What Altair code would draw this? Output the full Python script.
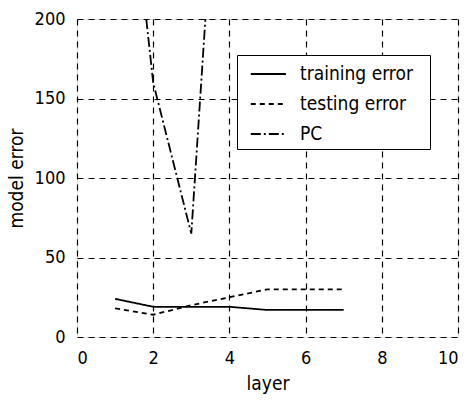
import altair as alt
import pandas as pd

# Model error against number of layers
layers = [1, 2, 3, 4, 5, 6, 7]
training_error = [24, 19, 19, 19, 17, 17, 17]
testing_error = [18, 14, 20, 25, 30, 30, 30]
pc_layers = [1, 2, 3, 4]
pc_values = [380, 160, 65, 430]

series_names = ["training error", "testing error", "PC"]

rows = []
for x, v in zip(layers, training_error):
    rows.append({"layer": x, "value": v, "series": series_names[0]})
for x, v in zip(layers, testing_error):
    rows.append({"layer": x, "value": v, "series": series_names[1]})
for x, v in zip(pc_layers, pc_values):
    rows.append({"layer": x, "value": v, "series": series_names[2]})
df = pd.DataFrame(rows)

FONT = "DejaVu Sans Condensed, Liberation Sans Narrow, Liberation Sans, sans-serif"

axis_style = dict(
    grid=True,
    gridColor="black",
    gridOpacity=1,
    gridDash=[6, 5],
    gridWidth=1.2,
    domain=False,
    ticks=False,
    labelFont=FONT,
    labelFontSize=18,
    labelColor="black",
    titleFont=FONT,
    titleFontSize=19,
    titleFontWeight="normal",
    titleColor="black",
)

# a long horizontal stroke for the legend keys
legend_stroke = "M-0.4,0H2.3"

chart = alt.Chart(df).mark_line(clip=True, color="black", strokeWidth=1.8).encode(
    x=alt.X("layer:Q", title="layer",
            scale=alt.Scale(domain=[0, 10], nice=False),
            axis=alt.Axis(values=[0, 2, 4, 6, 8, 10], labelPadding=12, titlePadding=7,
                          **axis_style)),
    y=alt.Y("value:Q", title="model error",
            scale=alt.Scale(domain=[0, 200], nice=False),
            axis=alt.Axis(values=[0, 50, 100, 150, 200], labelPadding=12, titlePadding=8,
                          **axis_style)),
    strokeDash=alt.StrokeDash(
        "series:N", sort=series_names,
        scale=alt.Scale(domain=series_names, range=[[1, 0], [5, 4], [10, 3, 2, 3]]),
        legend=alt.Legend(title=None, orient="none", legendX=160, legendY=36,
                          strokeColor="black", fillColor="white", padding=5,
                          symbolType=legend_stroke,
                          symbolSize=676, symbolStrokeWidth=1.8, symbolStrokeColor="black",
                          symbolFillColor="transparent",
                          labelFontSize=19, labelFont=FONT, labelColor="black",
                          labelExpr="datum.label + '\u2002\u2009\u200b'",
                          rowPadding=6, labelOffset=30, labelLimit=240),
    ),
    detail="series:N",
).properties(
    width=381,
    height=318,
    padding={"left": 77, "top": 19, "right": 11, "bottom": 69},
    autosize=alt.AutoSizeParams(type="none"),
).configure_view(
    stroke="black",
    strokeWidth=2,
).configure(background="white")

chart.save("out.html", embed_options={"renderer": "svg", "actions": False})
